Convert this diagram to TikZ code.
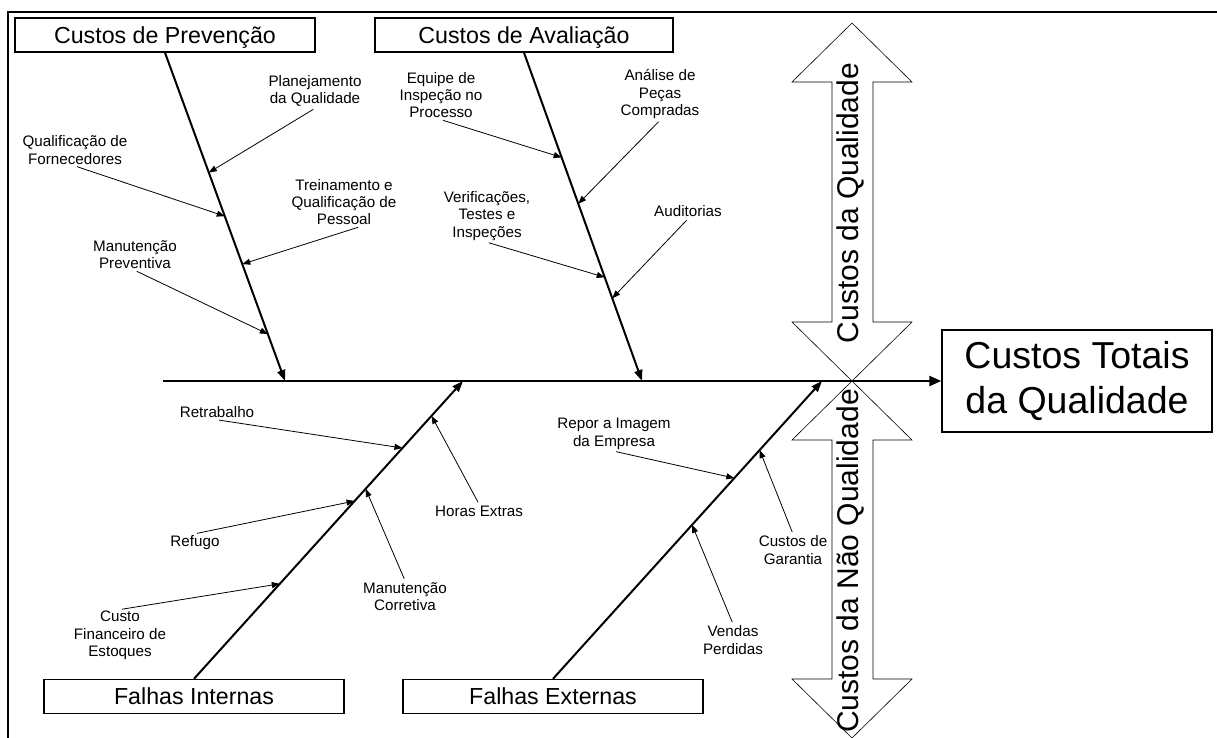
\documentclass[tikz,border=0pt]{standalone}
\usepackage{fontspec}
\setmainfont{Liberation Sans}
\usetikzlibrary{arrows.meta,calc}

\begin{document}
\begin{tikzpicture}[x=1pt,y=-1pt,
  headbox/.style={draw, line width=1.4pt, minimum width=300pt, minimum height=34pt,
    inner sep=0pt, font=\fontsize{23.2}{27}\selectfont, text height=16.5pt, text depth=0pt},
  lbl/.style={align=center, inner sep=1.5pt, font=\fontsize{15.2}{17.4}\selectfont},
  bone/.style={line width=2pt, -{Triangle[length=11pt,width=8pt]}},
  cause/.style={line width=0.8pt, shorten <=2pt, -{Triangle[length=8pt,width=6pt]}},
  bigarrow/.style={draw, line width=0.6pt, fill=white},
  vtext/.style={rotate=90, inner sep=0pt, font=\fontsize{30}{36}\selectfont}
]
\useasboundingbox (0,0) rectangle (1217,737);

% outer frame (top and left edges)
\draw[line width=2pt] (8,740) -- (8,12) -- (1220,12);

% double arrows: costs of quality / costs of non-quality
\draw[bigarrow] (852,23) -- (912,82) -- (873,82) -- (873,322) -- (912,322) -- (852,381)
  -- (792,322) -- (832,322) -- (832,82) -- (792,82) -- cycle;
\draw[bigarrow] (852,381) -- (912,440) -- (873,440) -- (873,679) -- (912,679) -- (852,738)
  -- (792,679) -- (832,679) -- (832,440) -- (792,440) -- cycle;
\node[vtext] (cq) at (850,203) {Custos da Qualidade};
\node[vtext] (cnq) at (850,561) {Custos da Não Qualidade};

% category boxes
\node[headbox] (prev) at (165,35) {Custos de Prevenção};
\node[headbox, minimum width=298pt] (aval) at (524,35) {Custos de Avaliação};
\node[headbox] (inter) at (194,696.5) {Falhas Internas};
\node[headbox] (exter) at (553,696.5) {Falhas Externas};

% effect box
\node[draw, line width=1.4pt, minimum width=270pt, minimum height=102pt, inner sep=0pt,
  align=center, font=\fontsize{37.5}{45}\selectfont] (total) at (1077,381)
  {Custos Totais\\da Qualidade};

% spine
\coordinate (spineL) at (163,381);
\coordinate (P1) at (285,381);
\coordinate (P2) at (642,381);
\coordinate (P3) at (463,381);
\coordinate (P4) at (822,381);
\draw[line width=2.2pt, -{Triangle[length=12pt,width=10pt]}] (spineL) -- (total.west);

% main bones
\draw[bone] (prev.south) -- (P1);
\draw[bone] (aval.south) -- (P2);
\draw[bone] (inter.north) -- (P3);
\draw[bone] (exter.north) -- (P4);

% prevention causes
\node[lbl] (planej) at (315,91) {Planejamento\\da Qualidade};
\node[lbl] (qualif) at (75,150) {Qualificação de\\Fornecedores};
\node[lbl] (trein) at (344,202) {Treinamento e\\Qualificação de\\Pessoal};
\node[lbl] (mprev) at (135,254.5) {Manutenção\\Preventiva};
\draw[cause] (planej.south) -- ($(prev.south)!0.365!(P1)$);
\draw[cause] (qualif.south) -- ($(prev.south)!0.498!(P1)$);
\draw[cause] ([xshift=16pt]trein.south) -- ($(prev.south)!0.644!(P1)$);
\draw[cause] (mprev.south) -- ($(prev.south)!0.857!(P1)$);

% appraisal causes
\node[lbl] (equipe) at (441,95) {Equipe de\\Inspeção no\\Processo};
\node[lbl] (analise) at (660,94) {Análise de\\Peças\\Compradas};
\node[lbl] (verif) at (487,216) {Verificações,\\Testes e\\Inspeções};
\node[lbl] (audit) at (688,211.5) {Auditorias};
\draw[cause] (equipe.south) -- ($(aval.south)!0.319!(P2)$);
\draw[cause] (analise.south) -- ($(aval.south)!0.46!(P2)$);
\draw[cause] (verif.south) -- ($(aval.south)!0.684!(P2)$);
\draw[cause] (audit.south) -- ($(aval.south)!0.748!(P2)$);

% internal failure causes
\node[lbl] (retrab) at (217,412.5) {Retrabalho};
\node[lbl] (refugo) at (195,542.5) {Refugo};
\node[lbl] (custo) at (120,635.5) {Custo\\Financeiro de\\Estoques};
\node[lbl] (mcorr) at (405,596.5) {Manutenção\\Corretiva};
\node[lbl] (horas) at (479,511) {Horas Extras};
\draw[cause] (retrab.south) -- ($(inter.north)!0.775!(P3)$);
\draw[cause] (refugo.north) -- ($(inter.north)!0.597!(P3)$);
\draw[cause] (custo.north) -- ($(inter.north)!0.319!(P3)$);
\draw[cause] (mcorr.north) -- ($(inter.north)!0.638!(P3)$);
\draw[cause] (horas.north) -- ($(inter.north)!0.883!(P3)$);

% external failure causes
\node[lbl] (repor) at (614,434) {Repor a Imagem\\da Empresa};
\node[lbl] (garant) at (793,550) {Custos de\\Garantia};
\node[lbl] (vendas) at (733,640) {Vendas\\Perdidas};
\draw[cause] (repor.south) -- ($(exter.north)!0.674!(P4)$);
\draw[cause] (garant.north) -- ($(exter.north)!0.768!(P4)$);
\draw[cause] (vendas.north) -- ($(exter.north)!0.517!(P4)$);
\end{tikzpicture}
\end{document}
